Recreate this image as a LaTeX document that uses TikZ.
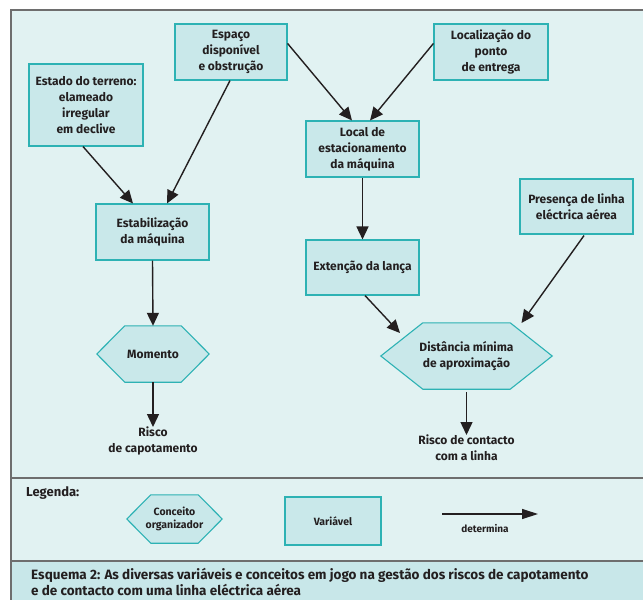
\documentclass[tikz,border=0pt]{standalone}
\usepackage{fontspec}
\setmainfont{Fira Sans}
\usetikzlibrary{arrows.meta,calc}
\pgfdeclarelayer{bg}
\pgfsetlayers{bg,main}
\definecolor{framebg}{HTML}{E1F2F2}
\definecolor{boxbg}{HTML}{C9E8EA}
\definecolor{boxline}{HTML}{2DB2B4}
\definecolor{capbg}{HTML}{C8E7E9}
\definecolor{frameline}{HTML}{6E6E6E}
\definecolor{ink}{HTML}{231F20}
\begin{document}
\begin{tikzpicture}[x=1pt,y=-1pt,
  txt/.style={font=\bfseries\fontsize{12}{16}\selectfont,text=ink,align=center,inner sep=0pt},
  var/.style={txt,draw=boxline,fill=boxbg,line width=1.1pt},
  hexdraw/.style={draw=boxline,fill=boxbg,line width=1.1pt},
  arr/.style={draw=ink,line width=1.4pt,-{Triangle[length=13pt,width=12pt]}},
  legarr/.style={draw=ink,line width=1.2pt,-{Triangle[length=16pt,width=10pt]}},
  small/.style={font=\bfseries\fontsize{10.5}{13}\selectfont,text=ink,align=center,inner sep=0pt}]
\useasboundingbox (0,0) rectangle (643,600);
\clip (0,0) rectangle (643,600);
% frame
\begin{pgfonlayer}{bg}
\fill[white] (0,0) rectangle (643,600);
\draw[frameline,line width=1.2pt,fill=framebg] (11,10) rectangle (660,620);
\fill[capbg] (11,561) rectangle (660,620);
\draw[frameline,line width=1.2pt] (11,478) -- (660,478);
\draw[frameline,line width=1.2pt] (11,561) -- (660,561);
\draw[frameline,line width=1.2pt] (11,10) -- (11,620);
\end{pgfonlayer}

% variable boxes
\node[var,minimum width=112pt,minimum height=56pt] (esp) at (231,52) {Espaço\\disponível\\e obstrução};
\node[var,minimum width=114pt,minimum height=82pt] (est) at (86,105) {Estado do terreno:\\elameado\\irregular\\em declive};
\node[var,minimum width=113pt,minimum height=56pt] (stab) at (152.5,232) {Estabilização\\da máquina};
\node[var,minimum width=114pt,minimum height=56pt] (loc) at (491,52) {Localização do\\ponto\\de entrega};
\node[var,minimum width=113pt,minimum height=56pt] (park) at (362.5,149) {Local de\\estacionamento\\da máquina};
\node[var,minimum width=113pt,minimum height=55pt] (ext) at (362.5,267.5) {Extenção da lança};
\node[var,minimum width=113pt,minimum height=55pt] (pres) at (576.5,206.5) {Presença de linha\\eléctrica aérea};

% concept hexagons
\node[txt,minimum width=112pt,minimum height=56pt] (mom) at (153,354) {Momento};
\node[txt,minimum width=171pt,minimum height=66pt] (dist) at (466.5,356) {Distância mínima\\de aproximação};
\begin{pgfonlayer}{bg}
\draw[hexdraw] (mom.west) -- ($(mom.north west)+(28,0)$) -- ($(mom.north east)+(-28,0)$) -- (mom.east) -- ($(mom.south east)+(-28,0)$) -- ($(mom.south west)+(28,0)$) -- cycle;
\draw[hexdraw] (dist.west) -- ($(dist.north west)+(42,0)$) -- ($(dist.north east)+(-42,0)$) -- (dist.east) -- ($(dist.south east)+(-42,0)$) -- ($(dist.south west)+(42,0)$) -- cycle;
\end{pgfonlayer}

% outcomes
\node[txt,anchor=north] (r1) at (153,427) {Risco\\de capotamento};
\node[txt,anchor=north] (r2) at (466.5,435) {Risco de contacto\\com a linha};

% arrows
\draw[arr] ($(est.south)+(-3,0)$) -- ($(stab.north)+(-19.5,0)$);
\draw[arr] ($(esp.south)+(-1,0)$) -- ($(stab.north)+(14.5,0)$);
\draw[arr] ($(esp.north east)+(0,20)$) -- ($(park.north)+(-10.5,0)$);
\draw[arr] ($(loc.north west)+(0,20)$) -- ($(park.north)+(7.5,0)$);
\draw[arr] (park.south) -- (ext.north);
\draw[arr] (stab.south) -- (mom.north);
\draw[arr] ($(ext.south)+(2.5,0)$) -- ($(dist.center)+(-66.5,-23)$);
\draw[arr] ($(pres.south)+(7.5,1)$) -- ($(dist.center)+(55,-33)$);
\draw[arr] (mom.south) -- (r1.north);
\draw[arr] ($(dist.south)+(0,3)$) -- (r2.north);

% legend
\node[font=\bfseries\fontsize{13}{15}\selectfont,text=ink,anchor=west,inner sep=0pt] (leg) at (26,493) {Legenda:};
\node[small,minimum width=95pt,minimum height=48pt] (lhex) at (174.5,519) {Conceito\\organizador};
\begin{pgfonlayer}{bg}
\draw[hexdraw] (lhex.west) -- ($(lhex.north west)+(24,0)$) -- ($(lhex.north east)+(-24,0)$) -- (lhex.east) -- ($(lhex.south east)+(-24,0)$) -- ($(lhex.south west)+(24,0)$) -- cycle;
\end{pgfonlayer}
\node[var,font=\bfseries\fontsize{10.5}{13}\selectfont,minimum width=96pt,minimum height=48pt] (lvar) at (333,521) {Variável};
\coordinate (la) at (442,514);
\coordinate (lb) at (538,514);
\draw[legarr] (la) -- (lb);
\node[small,font=\bfseries\fontsize{10}{12}\selectfont] (ldet) at (485,529) {determina};

% caption
\node[font=\bfseries\fontsize{13.5}{16}\selectfont,text=ink,align=left,anchor=north west,inner sep=0pt] (cap) at (31,568) {Esquema 2: As diversas variáveis e conceitos em jogo na gestão dos riscos de capotamento\\e de contacto com uma linha eléctrica aérea};
\end{tikzpicture}
\end{document}
